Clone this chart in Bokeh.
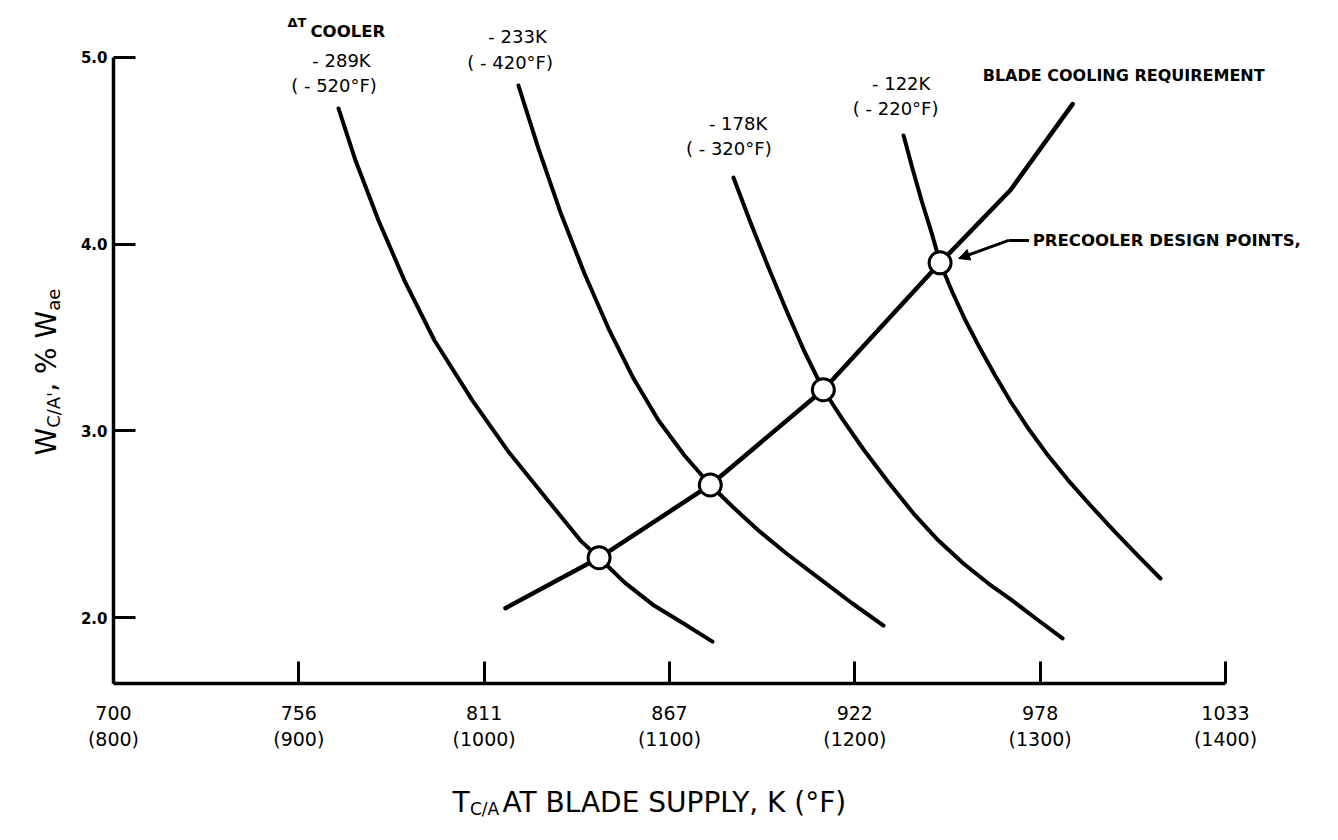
from math import pi

from bokeh.plotting import figure
from bokeh.models import Label, Arrow, NormalHead, FixedTicker, Range1d
from bokeh.embed import file_html
from bokeh.resources import INLINE

# Cooling-air temperature at blade supply (deg F) and cooling-air flow (% of W_ae)
# for each precooler temperature drop
dt289_t = [921.4, 930.6, 943.0, 957.0, 973.2, 993.7, 1012.6, 1033.1, 1052.0, 1062, 1075.7, 1090.8, 1107.6, 1123.2]
dt289_w = [4.727, 4.448, 4.127, 3.805, 3.484, 3.162, 2.895, 2.643, 2.412, 2.32, 2.188, 2.070, 1.968, 1.871]

dt233_t = [1018.5, 1029.3, 1041.2, 1054.1, 1067.1, 1080.6, 1094.1, 1108.1, 1122, 1134.5, 1148.0,
           1163.1, 1181.5, 1198.7, 1215.5]
dt233_w = [4.850, 4.512, 4.170, 3.843, 3.548, 3.280, 3.055, 2.868, 2.71, 2.589, 2.466,
           2.343, 2.204, 2.075, 1.957]

dt178_t = [1134.5, 1143.7, 1153.4, 1163.1, 1172.8, 1183, 1193.4, 1204.7, 1218.2, 1231.7, 1245.1,
           1258.6, 1272.1, 1285.6, 1299.1, 1312.1]
dt178_w = [4.357, 4.116, 3.875, 3.645, 3.425, 3.22, 3.061, 2.900, 2.723, 2.557, 2.412,
           2.289, 2.182, 2.086, 1.984, 1.888]

dt122_t = [1226.3, 1231.1, 1236.0, 1241.4, 1246, 1252.7, 1259.7, 1267.3, 1275.4, 1284.0, 1293.2,
           1303.4, 1314.8, 1327.2, 1340.1, 1353.1, 1364.9]
dt122_w = [4.582, 4.405, 4.234, 4.062, 3.90, 3.741, 3.591, 3.446, 3.302, 3.157, 3.018,
           2.879, 2.739, 2.600, 2.461, 2.327, 2.209]

# Blade cooling requirement line
req_t = [1011.5, 1062, 1122, 1183, 1246, 1284, 1317.5]
req_w = [2.05, 2.32, 2.71, 3.22, 3.90, 4.29, 4.75]

# Precooler design points (intersections)
design_t = [1062, 1122, 1183, 1246]
design_w = [2.32, 2.71, 3.22, 3.90]

# Axis ticks: deg F positions with kelvin equivalents
ticks_f = [800, 900, 1000, 1100, 1200, 1300, 1400]
ticks_k = [700, 756, 811, 867, 922, 978, 1033]
ticks_w = [2, 3, 4, 5]
ticks_w_text = ["2.0", "3.0", "4.0", "5.0"]

curve_labels = [("- 289K", "( - 520\u00b0F)"), ("- 233K", "( - 420\u00b0F)"),
                ("- 178K", "( - 320\u00b0F)"), ("- 122K", "( - 220\u00b0F)")]

FONT = "DejaVu Sans"
Y_MIN = 1.6464   # where the temperature axis sits
X_MIN = 800      # where the flow axis sits

p = figure(width=1338, height=840,
           x_range=Range1d(739.03, 1460.97), y_range=Range1d(0.8054, 5.3053),
           output_backend="svg", toolbar_location=None,
           min_border=0, min_border_left=0, min_border_right=0,
           min_border_top=0, min_border_bottom=0)
p.grid.visible = False
p.outline_line_color = None
p.background_fill_color = "white"
p.border_fill_color = "white"

xa = p.xaxis[0]
xa.fixed_location = Y_MIN
xa.ticker = FixedTicker(ticks=ticks_f)
xa.major_label_overrides = {f: f"{k}\n({f})" for f, k in zip(ticks_f, ticks_k)}
xa.bounds = (ticks_f[0], ticks_f[-1])
xa.axis_line_width = 3.5
xa.axis_line_color = "black"
xa.major_tick_in = 22
xa.major_tick_out = 0
xa.major_tick_line_width = 3
xa.major_tick_line_color = "black"
xa.minor_tick_line_color = None
xa.major_label_standoff = 18
xa.major_label_text_font = FONT
xa.major_label_text_font_size = "19px"
xa.major_label_text_line_height = 1.2
xa.major_label_text_color = "black"

ya = p.yaxis[0]
ya.fixed_location = X_MIN
ya.ticker = FixedTicker(ticks=ticks_w)
ya.major_label_overrides = {w: t for w, t in zip(ticks_w, ticks_w_text)}
ya.bounds = (Y_MIN, ticks_w[-1])
ya.axis_line_width = 3.5
ya.axis_line_color = "black"
ya.major_tick_in = 22
ya.major_tick_out = 0
ya.major_tick_line_width = 3
ya.major_tick_line_color = "black"
ya.minor_tick_line_color = None
ya.major_label_standoff = 6
ya.major_label_text_font = FONT
ya.major_label_text_font_size = "15px"
ya.major_label_text_font_style = "bold"
ya.major_label_text_color = "black"

# Curves
for ts, ws in [(dt289_t, dt289_w), (dt233_t, dt233_w),
               (dt178_t, dt178_w), (dt122_t, dt122_w)]:
    p.line(ts, ws, line_width=4, line_color="black", line_cap="round", line_join="round")

p.line(req_t, req_w, line_width=4.5, line_color="black", line_cap="round", line_join="round")

p.scatter(design_t, design_w, size=22, marker="circle",
          fill_color="white", line_color="black", line_width=3)


def label(x, y, text, size="18px", align="center", baseline="middle", bold=False, angle=0.0):
    p.add_layout(Label(x=x, y=y, text=text, text_font=FONT, text_font_size=size,
                       text_align=align, text_baseline=baseline, text_color="black",
                       text_font_style="bold" if bold else "normal",
                       angle=angle, angle_units="rad"))


# Temperature-drop labels above each curve
label_pos = [((923, 4.984), (919, 4.850)),
             ((1018, 5.112), (1014, 4.973)),
             ((1137, 4.646), (1132, 4.512)),
             ((1225, 4.861), (1222, 4.727))]
for (k_txt, f_txt), ((kx, ky), (fx, fy)) in zip(curve_labels, label_pos):
    label(kx, ky, k_txt)
    label(fx, fy, f_txt)

label(899, 5.187, "\u0394T", size="13px", bold=True)
label(906.3, 5.139, "COOLER", size="16.5px", align="left", bold=True)

label(1269, 4.904, "BLADE COOLING REQUIREMENT", size="16px", align="left", bold=True)
label(1296, 4.020, "PRECOOLER DESIGN POINTS,", size="16.5px", align="left", bold=True)

# Leader from the note to the highest design point
tip_t, tip_w = design_t[-1] + 10, design_w[-1] + 0.023
p.segment(x0=[1283], y0=[4.02], x1=[1294], y1=[4.02], line_width=3, line_color="black")
p.add_layout(Arrow(end=NormalHead(size=11, fill_color="black", line_color="black"),
                   x_start=1283, y_start=4.02, x_end=tip_t, y_end=tip_w,
                   line_width=3, line_color="black"))

# Axis titles with subscripts
label(982.9, 1.009, "T", size="28px", align="left", baseline="alphabetic")
label(992.3, 0.972, "C/A", size="17px", align="left", baseline="alphabetic")
label(1009.9, 1.009, "AT BLADE SUPPLY, K (\u00b0F)", size="28px", align="left", baseline="alphabetic")

label(763.85, 2.868, "W", size="28px", align="left", baseline="alphabetic", angle=pi / 2)
label(767.6, 3.016, "C/A'", size="18px", align="left", baseline="alphabetic", angle=pi / 2)
label(763.85, 3.209, ", % ", size="28px", align="left", baseline="alphabetic", angle=pi / 2)
label(763.85, 3.494, "W", size="28px", align="left", baseline="alphabetic", angle=pi / 2)
label(767.6, 3.643, "ae", size="18px", align="left", baseline="alphabetic", angle=pi / 2)

open("out.html", "w").write(file_html(p, INLINE))
